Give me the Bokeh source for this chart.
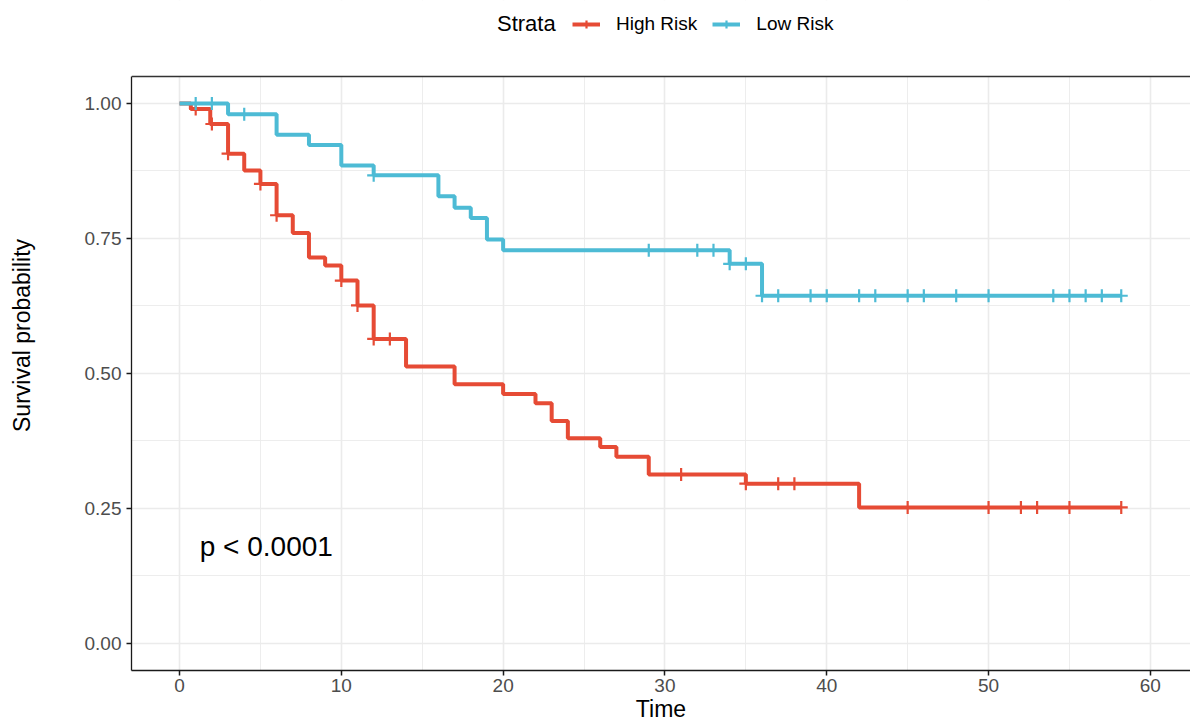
from bokeh.plotting import figure
from bokeh.models import (Range1d, FixedTicker, Legend, LegendItem, Span, BoxAnnotation)
from bokeh.core.properties import value
from bokeh.embed import file_html
from bokeh.resources import INLINE

# ---- data ----
high_time = [0, 0.7, 1.9, 3, 4, 5, 6, 7, 8, 9, 10, 11, 12, 14, 17, 20, 22, 23, 24, 26, 27, 29, 35, 42, 58.2]
high_surv = [1.0, 0.99, 0.962, 0.907, 0.876, 0.851, 0.793, 0.760, 0.715, 0.700, 0.672, 0.626, 0.564,
             0.513, 0.480, 0.462, 0.445, 0.412, 0.380, 0.364, 0.346, 0.313, 0.296, 0.252, 0.252]
high_cens_time = [1, 2, 3, 5, 6, 10, 11, 12, 13, 31, 35, 37, 38, 45, 50, 52, 53, 55, 58.2]
high_cens_surv = [0.99, 0.962, 0.907, 0.851, 0.793, 0.672, 0.626, 0.564, 0.564, 0.313, 0.296, 0.296,
                  0.296, 0.252, 0.252, 0.252, 0.252, 0.252, 0.252]

low_time = [0, 3, 6, 8, 10, 12, 16, 17, 18, 19, 20, 34, 36, 58.2]
low_surv = [1.0, 0.980, 0.942, 0.923, 0.885, 0.867, 0.828, 0.807, 0.788, 0.748, 0.728, 0.703, 0.644, 0.644]
low_cens_time = [1, 2, 4, 12, 29, 32, 33, 34, 35, 36, 37, 39, 40, 42, 43, 45, 46, 48, 50, 54, 55, 56, 57, 58.2]
low_cens_surv = [1.0, 1.0, 0.980, 0.867, 0.728, 0.728, 0.728, 0.703, 0.703, 0.644, 0.644, 0.644, 0.644,
                 0.644, 0.644, 0.644, 0.644, 0.644, 0.644, 0.644, 0.644, 0.644, 0.644, 0.644]

legend_title = "Strata"
strata_labels = ["High Risk", "Low Risk"]
strata_colors = ["#E64B35", "#4DBBD5"]
x_ticks = [0, 10, 20, 30, 40, 50, 60]
x_minor = [5, 15, 25, 35, 45, 55]
y_ticks = [0, 0.25, 0.5, 0.75, 1.0]
y_minor = [0.125, 0.375, 0.625, 0.875]
y_tick_labels = ["0.00", "0.25", "0.50", "0.75", "1.00"]
pval_text = ["p < 0.0001"]

FONT = "Liberation Sans"
PANEL_TOP = 1.05      # top edge of the plotting panel (data units)
PANEL_BOTTOM = -0.05

p = figure(width=1190, height=726, output_backend="svg", toolbar_location=None,
           x_range=Range1d(-2.967, 62.48), y_range=Range1d(PANEL_BOTTOM, 1.1907),
           min_border_left=131, min_border_right=0, min_border_top=0, min_border_bottom=56,
           x_axis_label="Time", y_axis_label="Survival probability")
p.outline_line_color = None
p.background_fill_color = "white"
p.border_fill_color = "white"

# axes
p.xaxis.ticker = FixedTicker(ticks=x_ticks, minor_ticks=x_minor)
p.yaxis.ticker = FixedTicker(ticks=y_ticks, minor_ticks=y_minor)
p.yaxis.major_label_overrides = {t: l for t, l in zip(y_ticks, y_tick_labels)}
p.yaxis.bounds = (PANEL_BOTTOM, PANEL_TOP)
for ax in (p.xaxis[0], p.yaxis[0]):
    ax.axis_line_color = "#1a1a1a"
    ax.axis_line_width = 1.3
    ax.major_tick_line_color = "#1a1a1a"
    ax.major_tick_line_width = 1.5
    ax.major_tick_out = 5
    ax.major_tick_in = 0
    ax.minor_tick_line_color = None
    ax.major_label_text_font = FONT
    ax.major_label_text_font_size = "19px"
    ax.major_label_text_color = "#4D4D4D"
    ax.axis_label_text_font = FONT
    ax.axis_label_text_font_size = "23px"
    ax.axis_label_text_font_style = "normal"
    ax.axis_label_text_color = "black"
p.xaxis.major_label_standoff = 3
p.xaxis.axis_label_standoff = 1
p.yaxis.major_label_standoff = 5
p.yaxis.axis_label_standoff = 47

# grid
for g in (p.xgrid[0], p.ygrid[0]):
    g.grid_line_color = "#EBEBEB"
    g.grid_line_width = 1.6
    g.minor_grid_line_color = "#EBEBEB"
    g.minor_grid_line_width = 0.9

# blank area above the panel (legend strip) and panel top border
p.add_layout(BoxAnnotation(bottom=PANEL_TOP, fill_color="white", fill_alpha=1.0,
                           line_color=None, level="underlay"))
p.add_layout(Span(location=PANEL_TOP, dimension="width", line_color="#333333", line_width=1.5))

# curves
r_hl = p.step(high_time, high_surv, mode="after", line_color=strata_colors[0], line_width=4)
r_hc = p.scatter(high_cens_time, high_cens_surv, marker="cross", size=13,
                 line_color=strata_colors[0], line_width=2.2)
r_ll = p.step(low_time, low_surv, mode="after", line_color=strata_colors[1], line_width=4)
r_lc = p.scatter(low_cens_time, low_cens_surv, marker="cross", size=13,
                 line_color=strata_colors[1], line_width=2.2)
# invisible renderer carrying the legend title entry
r_title = p.scatter([], [], marker="circle", size=1, fill_alpha=0, line_alpha=0)

# p-value
p.text(x=[1.25], y=[0.18], text=pval_text, text_font=value(FONT), text_font_size="28px",
       text_align="left", text_baseline="alphabetic", text_color="black")

def style_legend(lg, size):
    lg.label_text_font = FONT
    lg.label_text_font_size = size
    lg.label_text_color = "black"
    lg.padding = 0
    lg.margin = 0
    lg.border_line_color = None
    lg.background_fill_alpha = 0

title_legend = Legend(items=[LegendItem(label=legend_title, renderers=[r_title])],
                      orientation="horizontal", location=(366, 633))
style_legend(title_legend, "22px")
title_legend.glyph_width = 0
title_legend.label_standoff = 0
title_legend.glyph_height = 20
p.add_layout(title_legend, "center")

legend = Legend(items=[LegendItem(label=strata_labels[0], renderers=[r_hl, r_hc]),
                       LegendItem(label=strata_labels[1], renderers=[r_ll, r_lc])],
                orientation="horizontal", location=(441, 635))
style_legend(legend, "19px")
legend.glyph_width = 28
legend.glyph_height = 20
legend.label_standoff = 16
legend.spacing = 15
p.add_layout(legend, "center")

open("out.html", "w").write(file_html(p, INLINE))
